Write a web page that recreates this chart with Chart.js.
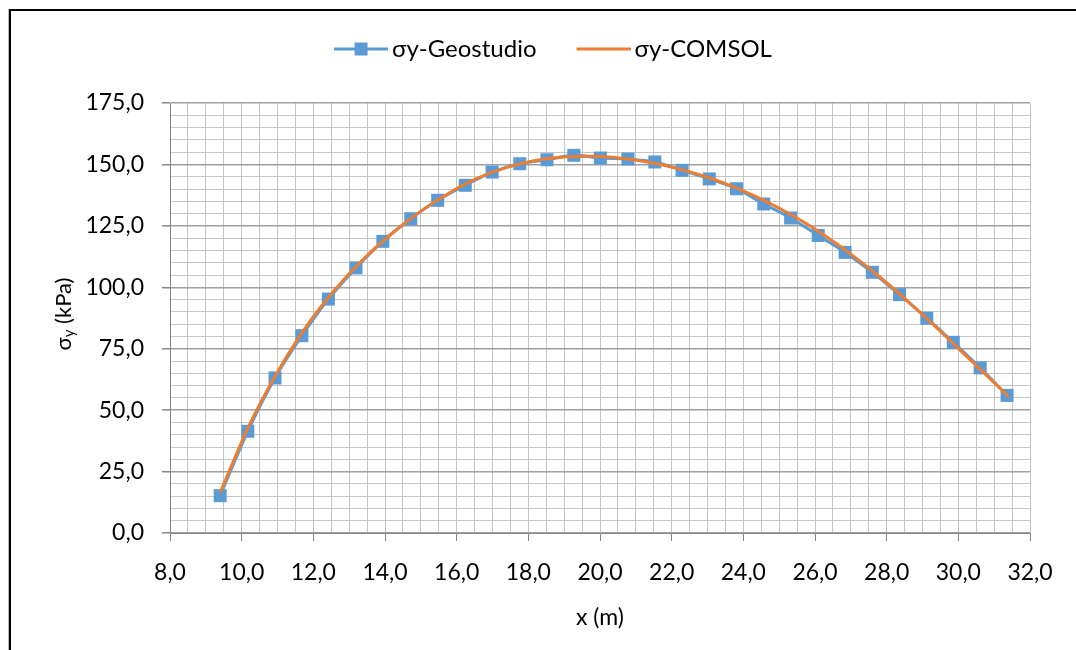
<!DOCTYPE html>
<html>
<head>
<meta charset="utf-8">
<script src="https://cdn.jsdelivr.net/npm/chart.js@4.4.1/dist/chart.umd.min.js"></script>
<style>
html, body { margin: 0; padding: 0; background: #fff; overflow: hidden; }
#wrap { position: relative; width: 1076px; height: 650px; }
#frame { position: absolute; left: 9px; top: 9px; width: 1200px; height: 800px; border: 2px solid #000; box-shadow: -1px 0 0 #bbb; }
canvas { position: absolute; left: 0; top: 0; }
</style>
</head>
<body>
<div id="wrap"><div id="frame"></div><canvas id="myChart" width="1076" height="650"></canvas></div>
<script>
// values
var xGeo = [9.40, 10.17, 10.93, 11.68, 12.42, 13.19, 13.94, 14.72, 15.47, 16.24, 16.99, 17.76, 18.52, 19.27, 20.01,
            20.78, 21.53, 22.29, 23.05, 23.81, 24.57, 25.32, 26.09, 26.84, 27.60, 28.36, 29.12, 29.86, 30.61, 31.36];
var yGeo = [15.2, 41.4, 63.1, 80.3, 95.2, 107.9, 118.7, 127.9, 135.4, 141.5, 146.9, 150.3, 151.9, 153.7, 152.6,
            152.2, 151.0, 147.6, 144.1, 140.1, 133.9, 128.2, 121.1, 114.2, 106.1, 97.0, 87.4, 77.6, 67.2, 56.0];
var xCom = [9.4, 10.2, 11.0, 11.8, 12.6, 13.4, 14.2, 15.0, 15.8, 16.6, 17.4, 18.2, 19.0, 19.8, 20.6,
            21.4, 22.2, 23.0, 23.8, 24.6, 25.4, 26.2, 27.0, 27.8, 28.6, 29.4, 30.2, 31.0, 31.4];
var yCom = [16.5, 43.5, 65.5, 84.0, 99.0, 111.5, 122.0, 131.0, 138.5, 144.5, 148.8, 151.6, 153.0, 153.3, 152.5,
            150.8, 148.2, 144.8, 140.5, 135.2, 129.0, 121.8, 113.5, 104.3, 94.2, 83.5, 72.3, 61.2, 55.5];

var seriesNames = ['σy-Geostudio', 'σy-COMSOL'];
var xTitle = 'x (m)';
var yTitleParts = ['σ', 'y', ' (kPa)'];
var xMin = 8, xMax = 32, xStep = 0.5, xLabelStep = 2;
var yMin = 0, yMax = 175, yStep = 5, yLabelStep = 25;

var blue = '#5B9BD5';
var orange = '#ED7D31';
var fontFamily = 'Lato, "Open Sans", sans-serif';
var fontSize = 23;
var legendFontSize = 24;
var yTitleSize = 22;

Chart.defaults.font.family = fontFamily;
Chart.defaults.font.size = fontSize;
Chart.defaults.color = '#000';

function isMultiple(v, step) {
    var r = Math.abs(v / step - Math.round(v / step));
    return r < 1e-6;
}

function fmt(v) {
    return v.toFixed(1).replace('.', ',');
}

// legend symbol: line (with a square marker) drawn at the right end of a wider image
function legendIcon(color, withMarker) {
    var c = document.createElement('canvas');
    c.width = 92;
    c.height = 14;
    var g = c.getContext('2d');
    g.fillStyle = color;
    g.fillRect(38, 5.5, 54, 3);
    if (withMarker) g.fillRect(58.5, 0.5, 13, 13);
    return c;
}
var icons = [legendIcon(blue, true), legendIcon(orange, false)];

function toPoints(xs, ys) {
    var out = [];
    for (var i = 0; i < xs.length; i++) out.push({ x: xs[i], y: ys[i] });
    return out;
}

// y axis title with a subscript
var yTitlePlugin = {
    id: 'yTitle',
    afterDraw: function (chart) {
        var g = chart.ctx;
        var a = chart.chartArea;
        var big = yTitleSize + 'px ' + fontFamily;
        var small = Math.round(yTitleSize * 0.68) + 'px ' + fontFamily;
        g.save();
        g.font = big;
        var w0 = g.measureText(yTitleParts[0]).width;
        var w2 = g.measureText(yTitleParts[2]).width;
        g.font = small;
        var w1 = g.measureText(yTitleParts[1]).width;
        var total = w0 + w1 + w2;
        g.translate(64, (a.top + a.bottom) / 2 - 4);
        g.rotate(-Math.PI / 2);
        g.fillStyle = '#000';
        g.textBaseline = 'middle';
        g.textAlign = 'left';
        var x = -total / 2;
        g.font = big;
        g.fillText(yTitleParts[0], x, 0);
        x += w0;
        g.font = small;
        g.fillText(yTitleParts[1], x, 5);
        x += w1;
        g.font = big;
        g.fillText(yTitleParts[2], x, 0);
        g.restore();
    }
};

// push the plot area down below the legend
var legendSpace = {
    id: 'legendSpace',
    afterInit: function (chart) {
        var lg = chart.legend;
        var fit = lg.fit;
        lg.fit = function () {
            fit.call(this);
            this.height += 32;
        };
    }
};

var ctx = document.getElementById('myChart').getContext('2d');
var myChart = new Chart(ctx, {
    type: 'scatter',
    data: {
        datasets: [{
            label: seriesNames[0],
            data: toPoints(xGeo, yGeo),
            showLine: true,
            borderColor: blue,
            borderWidth: 3,
            tension: 0.3,
            pointStyle: 'rect',
            pointRadius: 9.2,
            pointHoverRadius: 9.2,
            pointBackgroundColor: blue,
            pointBorderWidth: 0,
            order: 1
        }, {
            label: seriesNames[1],
            data: toPoints(xCom, yCom),
            showLine: true,
            borderColor: orange,
            backgroundColor: orange,
            borderWidth: 3,
            cubicInterpolationMode: 'monotone',
            pointRadius: 0,
            pointHoverRadius: 0,
            order: 0
        }]
    },
    options: {
        responsive: false,
        animation: false,
        layout: { padding: { top: 27, right: 46, bottom: 0, left: 46 } },
        plugins: {
            tooltip: { enabled: false },
            legend: {
                position: 'top',
                labels: {
                    usePointStyle: true,
                    pointStyleWidth: 76,
                    padding: 10,
                    color: '#000',
                    font: { size: legendFontSize },
                    sort: function (a, b) { return a.datasetIndex - b.datasetIndex; },
                    generateLabels: function (chart) {
                        var items = Chart.defaults.plugins.legend.labels.generateLabels(chart);
                        items.forEach(function (it) { it.pointStyle = icons[it.datasetIndex]; });
                        return items;
                    }
                }
            }
        },
        scales: {
            x: {
                type: 'linear',
                min: xMin,
                max: xMax,
                afterFit: function (s) { s.height = 117; },
                ticks: {
                    stepSize: xStep,
                    autoSkip: false,
                    maxRotation: 0,
                    padding: 18,
                    color: '#000',
                    callback: function (v) { return isMultiple(v, xLabelStep) ? fmt(v) : ''; }
                },
                grid: {
                    color: '#C4C4C4',
                    lineWidth: 1,
                    tickLength: 8,
                    tickColor: function (c) { return c.tick && isMultiple(c.tick.value, xLabelStep) ? '#868686' : 'rgba(0,0,0,0)'; }
                },
                border: { color: '#868686', width: 1 },
                title: { display: true, text: xTitle, color: '#000', padding: { top: 0, bottom: 19 } }
            },
            y: {
                type: 'linear',
                min: yMin,
                max: yMax,
                afterFit: function (s) { s.width = 124; },
                ticks: {
                    stepSize: yStep,
                    autoSkip: false,
                    padding: 18,
                    color: '#000',
                    callback: function (v) { return isMultiple(v, yLabelStep) ? fmt(v) : ''; }
                },
                grid: {
                    color: function (c) { return c.tick && isMultiple(c.tick.value, yLabelStep) ? '#A0A0A0' : '#C4C4C4'; },
                    lineWidth: function (c) { return c.tick && isMultiple(c.tick.value, yLabelStep) ? 1.5 : 1; },
                    tickLength: 8,
                    tickColor: function (c) { return c.tick && isMultiple(c.tick.value, yLabelStep) ? '#868686' : 'rgba(0,0,0,0)'; }
                },
                border: { color: '#868686', width: 1 },
                title: { display: false }
            }
        }
    },
    plugins: [yTitlePlugin, legendSpace]
});
</script>
</body>
</html>
